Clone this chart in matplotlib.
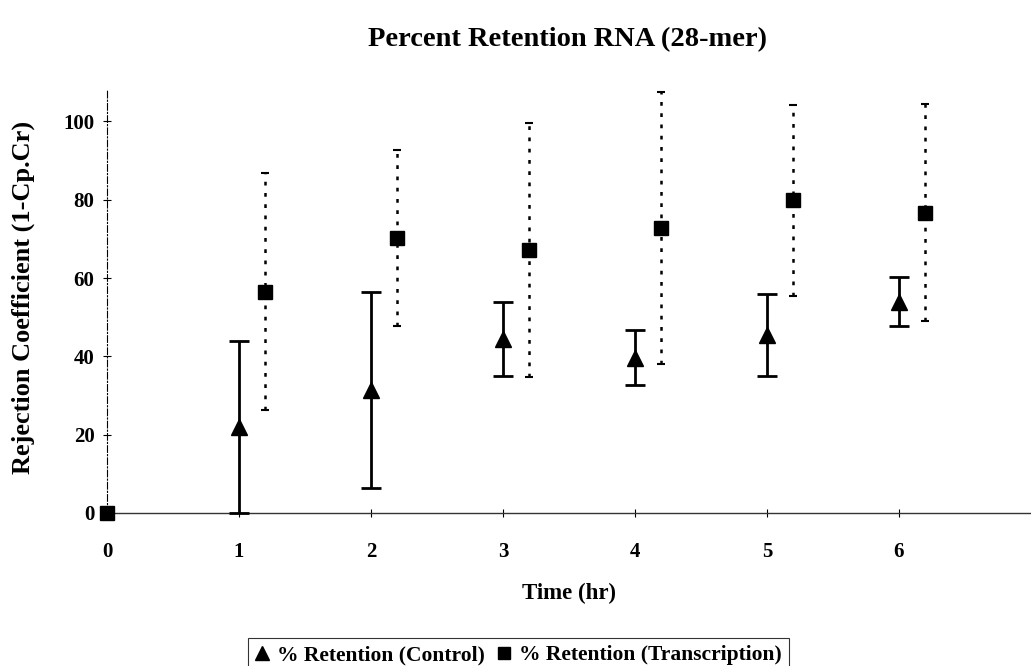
import matplotlib
matplotlib.use("Agg")
import matplotlib.pyplot as plt
from matplotlib.lines import Line2D

# Data
time_control = [0, 1, 2, 3, 4, 5, 6]
control = [0, 22.0, 31.4, 44.5, 39.7, 45.5, 54.0]
control_err = [0, 22.0, 25.0, 9.5, 7.0, 10.5, 6.2]

time_trans = [0, 1.2, 2.2, 3.2, 4.2, 5.2, 6.2]
trans = [0, 56.5, 70.2, 67.2, 72.7, 79.8, 76.7]
trans_err = [0, 30.3, 22.5, 32.5, 34.7, 24.3, 27.6]

xticks = [0, 1, 2, 3, 4, 5, 6]
yticks = [0, 20, 40, 60, 80, 100]

plt.rcParams['font.family'] = ['Liberation Serif', 'DejaVu Serif']
plt.rcParams['font.weight'] = 'bold'

fig = plt.figure(figsize=(10.31, 6.66), dpi=100)
ax = fig.add_axes([107/1031, 1-513/666, 1-107/1031, (513-90)/666])

ax.errorbar(time_control[1:], control[1:], yerr=control_err[1:], fmt='^', color='black',
            markersize=11, elinewidth=2, capsize=7, capthick=2, clip_on=False, zorder=3)
eb = ax.errorbar(time_trans[1:], trans[1:], yerr=trans_err[1:], fmt='s', color='black',
                 markersize=10, elinewidth=1.8, capsize=3, capthick=1.5, clip_on=False, zorder=3)
eb[2][0].set_linestyle((0, (1.5, 3)))
ax.plot(time_trans[:1], trans[:1], 's', color='black', markersize=10, clip_on=False, zorder=4)

ax.set_xlim(0, 7)
ax.set_ylim(0, 108)
ax.set_xticks(xticks)
ax.set_yticks(yticks)
ax.tick_params(axis='both', direction='inout', length=6, width=0.8, labelsize=15)
ax.tick_params(axis='y', pad=6)
ax.tick_params(axis='x', pad=18)
for lab in ax.get_xticklabels() + ax.get_yticklabels():
    lab.set_fontweight('bold')

ax.spines['top'].set_visible(False)
ax.spines['right'].set_visible(False)
ax.spines['left'].set_linestyle((0, (6, 2, 1, 2)))
ax.spines['left'].set_linewidth(0.8)
ax.spines['bottom'].set_linewidth(1.0)
ax.spines['bottom'].set_color('#333333')

ax.set_xlabel('Time (hr)', fontsize=16.5, fontweight='bold', labelpad=15)
ax.set_ylabel('Rejection Coefficient (1-Cp.Cr)', fontsize=19, fontweight='bold')
ax.yaxis.set_label_coords(-72/924, (513-297)/423)
fig.text(568/1031, 1-40/666, 'Percent Retention RNA (28-mer)', ha='center', va='center',
         fontsize=20.5, fontweight='bold')

handles = [Line2D([], [], marker='^', color='black', ls='none', markersize=10),
           Line2D([], [], marker='s', color='black', ls='none', markersize=9)]
leg = fig.legend(handles, ['% Retention (Control)', '% Retention (Transcription)'],
                 loc='upper center', bbox_to_anchor=(0.503, 1-627/666), ncol=2,
                 frameon=True, fancybox=False, edgecolor='black', handlelength=0.6,
                 handletextpad=0.4, columnspacing=0.6, borderpad=0.35,
                 prop={'size': 15.5, 'weight': 'bold'})
leg.get_frame().set_linewidth(0.8)

fig.savefig('out.png', dpi=100)
